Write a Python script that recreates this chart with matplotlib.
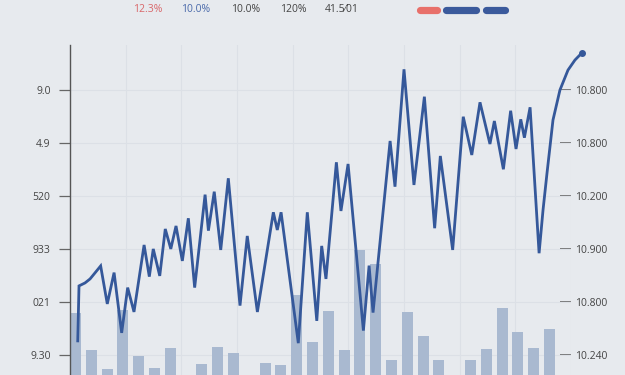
import matplotlib
matplotlib.use("Agg")
import matplotlib.pyplot as plt
import numpy as np
from matplotlib.lines import Line2D

# line series (x in bar-slot units, y in left-axis units)
line_x = [0.14, 0.22, 0.60, 0.92, 1.23, 1.59, 2.01, 2.44, 2.92, 3.30, 3.70, 4.34,
          4.67, 4.92, 5.33, 5.68, 6.03, 6.36, 6.76, 7.14, 7.54, 8.20, 8.41, 8.78,
          9.19, 9.67, 10.41, 10.87, 11.51, 12.52, 12.77, 13.01, 14.10, 14.67, 15.27,
          15.58, 15.85, 16.51, 16.80, 17.25, 18.22, 18.58, 18.83, 19.91, 20.22, 20.79,
          21.42, 22.08, 22.73, 23.09, 23.87, 24.54, 25.08, 25.60, 26.23, 26.51, 27.08,
          27.54, 27.88, 28.18, 28.41, 28.77, 29.34, 29.59, 29.84, 30.22, 30.66, 31.17,
          31.61, 32.06]
line_y = [2.64, 13.02, 13.58, 14.34, 15.47, 16.79, 9.62, 15.53, 4.15, 12.70, 8.11, 20.75,
          14.77, 20.00, 14.91, 23.77, 20.00, 24.34, 17.74, 25.79, 12.70, 30.25, 23.45, 30.81,
          19.81, 33.34, 9.30, 22.45, 8.10, 26.92, 23.58, 26.92, 2.21, 26.92, 6.42,
          20.57, 14.34, 36.36, 27.17, 36.04, 4.58, 16.85, 7.98, 40.38, 31.75, 53.91,
          32.08, 48.74, 23.91, 37.55, 19.81, 44.96, 37.74, 47.68, 39.81, 44.15, 35.04,
          46.09, 38.87, 44.47, 41.00, 46.74, 19.19, 27.36, 34.28, 44.34, 50.00, 53.77,
          55.66, 57.04]

# bars, one per slot
bar_vals = [11.7, 4.7, 1.1, 12.3, 3.6, 1.3, 5.1, 0.0, 2.1, 5.3, 4.2, 0.0, 2.3, 1.9, 15.1,
            6.2, 12.1, 4.7, 23.6, 20.9, 2.8, 11.9, 7.4, 2.8, 0.0, 2.8, 4.9, 12.6, 8.1,
            5.1, 8.7]

left_ticks = [0, 10, 20, 30, 40, 50]
left_labels = ["9.30", "021", "933", "520", "4.9", "9.0"]
right_labels = ["10.240", "10.800", "10.900", "10.200", "10.800", "10.800"]

header_texts = ["12.3%", "10.0%", "10.0%", "120%", "41.5\u204401"]
header_colors = ["#d9676a", "#4a6aaa", "#444444", "#444444", "#444444"]

BG = "#e7eaee"
LINE = "#35589a"
BAR = "#a9b9d0"
Y_LO, Y_HI = -3.8, 58.5
X_LO, X_HI = -0.35, 31.36

plt.rcParams["font.family"] = ["Open Sans", "DejaVu Sans"]

fig = plt.figure(figsize=(6.25, 3.75), dpi=100, facecolor=BG)
ax = fig.add_axes([70 / 625, 0, 501 / 625, 330 / 375])
ax.set_facecolor(BG)

bx = np.arange(len(bar_vals))
ax.bar(bx, bar_vals, width=0.7, bottom=Y_LO, color=BAR, zorder=2)
ax.plot(line_x, line_y, color=LINE, lw=2.0, zorder=3, clip_on=False,
        solid_joinstyle="miter")
ax.plot(line_x[-1:], line_y[-1:], "o", color=LINE, ms=4, zorder=4, clip_on=False)

ax.set_xlim(X_LO, X_HI)
ax.set_ylim(Y_LO, Y_HI)
ax.set_xticks(np.linspace(X_LO, X_HI, 10))
ax.set_xticklabels([])
ax.tick_params(axis="x", length=0)
ax.set_yticks(left_ticks)
ax.set_yticklabels(left_labels)
ax.tick_params(axis="y", length=8, width=0.9, color="#666666", pad=6,
               labelsize=7.5, labelcolor="#444444")
ax.grid(True, color="#dce0e6", lw=0.8, zorder=0)
ax.set_axisbelow(True)
for s in ["top", "right", "bottom"]:
    ax.spines[s].set_visible(False)
ax.spines["left"].set_color("#555555")
ax.spines["left"].set_linewidth(1.0)

sec = ax.secondary_yaxis("right")
sec.set_yticks(left_ticks)
sec.set_yticklabels(right_labels)
sec.tick_params(direction="in", length=8, width=1.1, color="#5a5a5a", pad=3,
                labelsize=7.5, labelcolor="#444444")
sec.spines["right"].set_visible(False)

# header row
for txt, col, xp in zip(header_texts, header_colors, [148, 196, 246, 293, 342]):
    fig.text(xp / 625, 1 - 10 / 375, txt, color=col, fontsize=7.5,
             ha="center", va="center")

for (x0, x1), col in zip([(420.5, 436.5), (445.5, 475.5), (485.5, 504.5)],
                         ["#e8706a", "#3b5a9c", "#3b5a9c"]):
    fig.add_artist(Line2D([x0 / 625, x1 / 625], [1 - 10 / 375] * 2, lw=5.2,
                          color=col, solid_capstyle="round",
                          transform=fig.transFigure))

fig.savefig("out.png", dpi=100, facecolor=BG)
